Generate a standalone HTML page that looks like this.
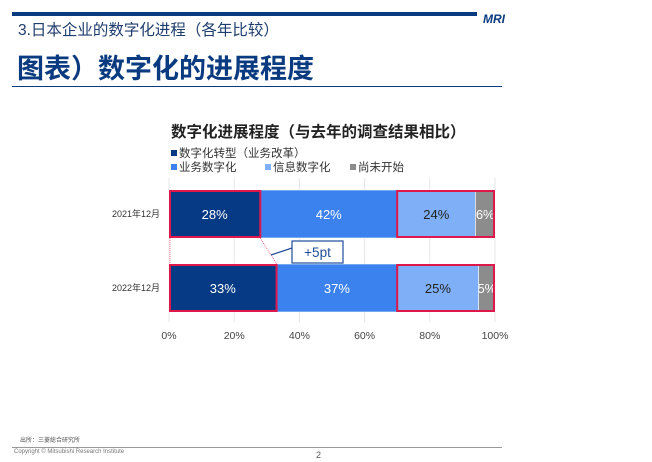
<!DOCTYPE html>
<html><head><meta charset="utf-8"><style>
body{margin:0;width:652px;height:462px;background:#fff;position:relative;overflow:hidden;font-family:"Liberation Sans","Noto Sans CJK SC",sans-serif}
.a{position:absolute;white-space:nowrap}
</style></head><body>
<div class="a" style="left:12px;top:12px;width:465px;height:4px;background:#0a3a80"></div>
<div class="a" style="left:483px;top:12px;font:italic bold 12px 'Liberation Sans',sans-serif;color:#0a3a80">MRI</div>
<div class="a" style="left:18px;top:18px;font-size:15.5px;color:#1f3d6e">3.日本企业的数字化进程（各年比较）</div>
<div class="a" style="left:17px;top:47px;font-size:27px;font-weight:bold;color:#0a3a80">图表）数字化的进展程度</div>
<div class="a" style="left:12px;top:86px;width:490px;height:1px;background:#0a3a80"></div>
<svg class="a" style="left:0;top:0" width="652" height="462" id="ch"></svg>
<div class="a" style="left:20px;top:435px;font-size:6px;color:#555">出所：三菱総合研究所</div>
<div class="a" style="left:12px;top:447px;width:490px;height:1px;background:#999"></div>
<div class="a" style="left:14px;top:449px;font-size:6px;color:#777">Copyright © Mitsubishi Research Institute</div>
<div class="a" style="left:316px;top:450px;font-size:9px;color:#555">2</div>
<script>
const categories=["2021年12月","2022年12月"];
const seriesNames=["数字化转型（业务改革）","业务数字化","信息数字化","尚未开始"];
const dx=[28,33];
const biz=[42,37];
const info=[24,25];
const notStarted=[6,5];
const ticks=[0,20,40,60,80,100];
const colors=["#063a84","#3b82ee","#7fb0f7","#8c8c8c"];
const txtColors=["#fff","#fff","#222","#fff"];
const NS="http://www.w3.org/2000/svg",svg=document.getElementById('ch');
const X0=169,X1=495,x=v=>X0+(X1-X0)*v/100;
const rowY=[190,264],BH=48;
function el(t,a,p){const e=document.createElementNS(NS,t);for(const k in a)e.setAttribute(k,a[k]);(p||svg).appendChild(e);return e;}
let t=el('text',{x:171,y:137,'font-size':15.5,'font-weight':'bold',fill:'#222'});t.textContent="数字化进展程度（与去年的调查结果相比）";

const leg=[[171,157],[171,171],[265,171],[350,171]];
seriesNames.forEach((n,i)=>{const g=el('g',{});

el('rect',{x:leg[i][0],y:leg[i][1]-7,width:6,height:6,fill:colors[i]},g);
const tt=el('text',{x:leg[i][0]+8,y:leg[i][1],'font-size':11.5,fill:'#333'},g);tt.textContent=n;});
ticks.forEach(v=>{const l=el('line',{x1:x(v),x2:x(v),y1:178,y2:322,stroke:'#e6e6e6'});

const tx=el('text',{x:x(v),y:339,'font-size':10.5,fill:'#444','text-anchor':'middle'});tx.textContent=v+'%';
});
const series=[dx,biz,info,notStarted];
categories.forEach((c,r)=>{let acc=0;const y=rowY[r];
const lb=el('text',{x:160,y:y+BH/2+3,'font-size':9,fill:'#333','text-anchor':'end'});lb.textContent=c;

series.forEach((s,i)=>{const v=s[r];
const b=el('rect',{x:x(acc),y:y,width:x(acc+v)-x(acc),height:BH,fill:colors[i],stroke:'#fff','stroke-width':0.6});

const tl=el('text',{x:(x(acc)+x(acc+v))/2,y:y+BH/2+5,'font-size':13,fill:txtColors[i],'text-anchor':'middle'});tl.textContent=v+'%';

acc+=v;});
const h1=el('rect',{x:x(0)+1,y:y+1,width:x(dx[r])-x(0)-1,height:BH-2,fill:'none',stroke:'#e0174a','stroke-width':2});

const s2=dx[r]+biz[r];
const h2=el('rect',{x:x(s2),y:y+1,width:x(100)-x(s2)-1,height:BH-2,fill:'none',stroke:'#e0174a','stroke-width':2});
});
el('line',{x1:x(0)+1,y1:rowY[0]+BH,x2:x(0)+1,y2:rowY[1],stroke:'#e0174a','stroke-width':0.6,'stroke-dasharray':'1,1'});
el('line',{x1:x(dx[0]),y1:rowY[0]+BH,x2:x(dx[1]),y2:rowY[1],stroke:'#e0174a','stroke-width':0.6,'stroke-dasharray':'1,1'});
el('line',{x1:271,y1:255,x2:292,y2:248,stroke:'#1f4e9a','stroke-width':1.2});
const cb=el('rect',{x:292,y:241,width:51,height:22,fill:'#fff',stroke:'#1f4e9a','stroke-width':1.2});

const ct=el('text',{x:317.5,y:257,'font-size':13.5,fill:'#1f4e9a','text-anchor':'middle'});ct.textContent="+5pt";
</script>
</body></html>
